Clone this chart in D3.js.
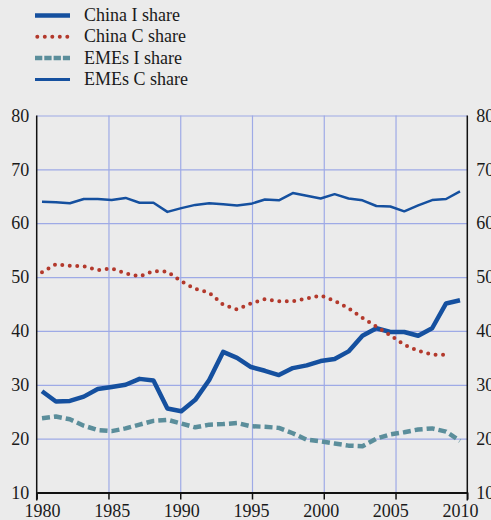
<!DOCTYPE html>
<html>
<head>
<meta charset="utf-8">
<script src="https://d3js.org/d3.v7.min.js"></script>
<style>
  body { margin:0; background:#ebebeb; }
  text { font-family: "Liberation Serif", "Times New Roman", serif; fill:#1a1a1a; }
</style>
</head>
<body>
<script>
// yearly observations, 1980-2010
const years = d3.range(1980, 2011);
const chinaI = [28.8, 26.9, 27.0, 27.8, 29.2, 29.6, 30.0, 31.1, 30.8, 25.6,
                25.1, 27.2, 30.9, 36.1, 35.0, 33.3, 32.6, 31.8, 33.1, 33.6,
                34.4, 34.8, 36.2, 39.1, 40.5, 39.8, 39.8, 39.1, 40.5, 45.1, 45.7];
const chinaC = [50.9, 52.4, 52.1, 52.0, 51.3, 51.6, 50.7, 50.1, 51.1, 51.0,
                49.2, 47.8, 47.1, 44.9, 44.0, 45.1, 45.9, 45.5, 45.5, 46.0,
                46.6, 45.6, 44.2, 42.4, 40.8, 39.2, 37.4, 36.3, 35.6, 35.6];
const emesI = [23.8, 24.1, 23.6, 22.4, 21.6, 21.4, 21.9, 22.6, 23.3, 23.5,
               22.8, 22.1, 22.6, 22.7, 22.9, 22.3, 22.2, 22.0, 21.0, 19.8,
               19.5, 19.1, 18.7, 18.6, 20.0, 20.8, 21.2, 21.7, 21.9, 21.3, 19.6];
const emesC = [64.0, 63.9, 63.7, 64.5, 64.5, 64.3, 64.7, 63.8, 63.8, 62.1,
               62.8, 63.4, 63.7, 63.5, 63.3, 63.6, 64.4, 64.25, 65.6, 65.1,
               64.6, 65.4, 64.6, 64.25, 63.2, 63.1, 62.2, 63.3, 64.3, 64.5, 65.9];
const yTicks = [10, 20, 30, 40, 50, 60, 70, 80];
const xLabels = [1980, 1985, 1990, 1995, 2000, 2005, 2010];
const seriesNames = ["China I share", "China C share", "EMEs I share", "EMEs C share"];

var W = 491, H = 520;
var pLeft = 36.7, pRight = 467.3, pTop = 115.5, pBottom = 492.5;
var blue = "#15509f", red = "#b3392c", teal = "#5b8e9b", grid = "#9eaae6";

var svg = d3.select("body").append("svg")
  .attr("width", W)
  .attr("height", H);

svg.append("rect").attr("width", W).attr("height", H).attr("fill", "#ebebeb");

// data positions sit a little inside the frame, like the original
var x = d3.scaleLinear().domain([1980, 2010]).range([42, 460]);
var xFrame = d3.scaleLinear().domain([1980, 2010]).range([pLeft, pRight]);
var y = d3.scaleLinear().domain([10, 80]).range([pBottom, pTop]);

// horizontal grid
svg.append("g")
  .attr("transform", `translate(${pLeft},0)`)
  .call(d3.axisLeft(y).tickValues(yTicks.slice(1)).tickSize(-(pRight - pLeft)).tickFormat(""))
  .call(g => g.select(".domain").remove())
  .selectAll("line").attr("stroke", grid).attr("stroke-width", 1.2);

// vertical grid
svg.append("g")
  .attr("transform", `translate(0,${pBottom})`)
  .call(d3.axisBottom(xFrame).tickValues(xLabels.slice(1, -1)).tickSize(-(pBottom - pTop)).tickFormat(""))
  .call(g => g.select(".domain").remove())
  .selectAll("line").attr("stroke", grid).attr("stroke-width", 1.2);

// frame sides
svg.append("line").attr("x1", pLeft).attr("x2", pLeft).attr("y1", pTop).attr("y2", pBottom + 8)
  .attr("stroke", "#111").attr("stroke-width", 1.5);
svg.append("line").attr("x1", pRight).attr("x2", pRight).attr("y1", pTop).attr("y2", pBottom + 8)
  .attr("stroke", "#111").attr("stroke-width", 1.5);

// bottom axis line + ticks
var xAxis = svg.append("g")
  .attr("transform", `translate(0,${pBottom})`)
  .call(d3.axisBottom(xFrame).tickValues(xLabels).tickSize(7).tickSizeOuter(0).tickFormat(""));
xAxis.select(".domain").attr("stroke", "#111").attr("stroke-width", 2);
xAxis.selectAll("line").attr("stroke", "#111").attr("stroke-width", 1.5);

// x labels
svg.append("g")
  .attr("transform", `translate(0,${pBottom})`)
  .call(d3.axisBottom(x).tickValues(xLabels).tickFormat(d3.format("d")).tickSize(0).tickPadding(12))
  .call(g => g.select(".domain").remove())
  .selectAll("text").style("font-size", "18px").attr("fill", "#1a1a1a");

// y labels, both sides
svg.append("g")
  .attr("transform", `translate(${pLeft},0)`)
  .call(d3.axisLeft(y).tickValues(yTicks).tickSize(0).tickPadding(7.5))
  .call(g => g.select(".domain").remove())
  .selectAll("text").style("font-size", "18px").attr("fill", "#1a1a1a");

svg.append("g")
  .attr("transform", `translate(${pRight},0)`)
  .call(d3.axisRight(y).tickValues(yTicks).tickSize(0).tickPadding(9))
  .call(g => g.select(".domain").remove())
  .selectAll("text").style("font-size", "18px").attr("fill", "#1a1a1a");

var line = d3.line()
  .x((d, i) => x(years[i]))
  .y(d => y(d));

var styles = [
  {data: chinaI, color: blue, width: 4.5, dash: null, cap: "butt"},
  {data: chinaC, color: red, width: 4, dash: "0,7.5", cap: "round"},
  {data: emesI, color: teal, width: 4.5, dash: "8,4", cap: "butt"},
  {data: emesC, color: blue, width: 2.5, dash: null, cap: "butt"}
];

// draw thin line first, then the rest
[3, 2, 0, 1].forEach(function (k) {
  var s = styles[k];
  svg.append("path")
    .datum(s.data)
    .attr("d", line)
    .attr("fill", "none")
    .attr("stroke", s.color)
    .attr("stroke-width", s.width)
    .attr("stroke-dasharray", s.dash)
    .attr("stroke-linecap", s.cap)
    .attr("stroke-linejoin", "round");
});

// legend
var legend = svg.append("g");
seriesNames.forEach(function (name, i) {
  var s = styles[i];
  var ly = 15.5 + i * 21.3;
  legend.append("line")
    .attr("x1", s.cap == "round" ? 37.3 : 35).attr("x2", 70)
    .attr("y1", ly).attr("y2", ly)
    .attr("stroke", s.color)
    .attr("stroke-width", i == 3 ? 3 : s.width)
    .attr("stroke-dasharray", i == 2 ? "7.3,2" : s.dash)
    .attr("stroke-linecap", s.cap);
  legend.append("text")
    .attr("x", 84)
    .attr("y", ly + 5.5)
    .style("font-size", "18px")
    .text(name);
});
</script>
</body>
</html>
